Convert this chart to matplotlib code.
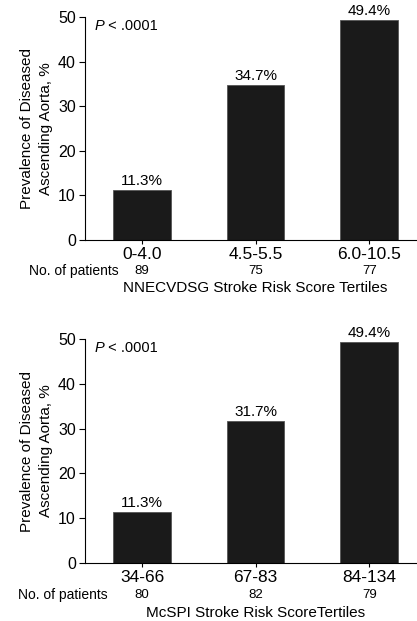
import matplotlib
matplotlib.use("Agg")
import matplotlib.pyplot as plt
from matplotlib.transforms import blended_transform_factory

plt.rcParams['font.family'] = ['Liberation Sans', 'DejaVu Sans']

# Data
top_categories = ["0-4.0", "4.5-5.5", "6.0-10.5"]
top_values = [11.3, 34.7, 49.4]
top_patients = [89, 75, 77]
top_title = "NNECVDSG Stroke Risk Score Tertiles"

bot_categories = ["34-66", "67-83", "84-134"]
bot_values = [11.3, 31.7, 49.4]
bot_patients = [80, 82, 79]
bot_title = "McSPI Stroke Risk ScoreTertiles"

yticks = [0, 10, 20, 30, 40, 50]
ylabel = "Prevalence of Diseased\nAscending Aorta, %"
ptext = " < .0001"

W, H = 417, 621
fig = plt.figure(figsize=(W / 100, H / 100), dpi=100)


def panel(rect, cats, vals, pats, title, tick_off, pat_off, title_off, pat_x):
    ax = fig.add_axes(rect)
    x = list(range(len(cats)))
    ax.bar(x, vals, width=0.507, color="#1a1a1a", edgecolor="#555555", linewidth=0.6)
    ax.set_xlim(-0.502, 2.42)
    ax.set_ylim(0, 50)
    ax.set_yticks(yticks)
    ax.set_yticklabels([str(t) for t in yticks], fontsize=11.5)
    ax.set_xticks(x)
    ax.set_xticklabels(cats, fontsize=12.5)
    ax.tick_params(axis='x', length=3, pad=tick_off, width=0.8)
    ax.tick_params(axis='y', length=4.5, pad=2, width=0.8)
    for s in ["top", "right"]:
        ax.spines[s].set_visible(False)
    for s in ["left", "bottom"]:
        ax.spines[s].set_linewidth(0.8)
    for xi, v in zip(x, vals):
        ax.annotate(f"{v:.1f}%", (xi, v), xytext=(0, 1.5), textcoords="offset points",
                    ha="center", va="bottom", fontsize=11)
    tr = blended_transform_factory(ax.transData, ax.transAxes)
    for xi, p in zip(x, pats):
        ax.annotate(str(p), (xi, 0), xycoords=tr, xytext=(0, -pat_off),
                    textcoords="offset pixels", ha="center", va="center", fontsize=9.5)
    ax.annotate("No. of patients", (pat_x / W, 0), xycoords=("figure fraction", "axes fraction"),
                xytext=(0, -pat_off), textcoords="offset pixels", ha="left", va="center",
                fontsize=10)
    ax.annotate(title, (1, 0), xycoords=tr, xytext=(0, -title_off),
                textcoords="offset pixels", ha="center", va="center", fontsize=11)
    ax.text(-0.42, 48, "P", style="italic", fontsize=10.5, ha="left", va="center")
    ax.text(-0.335, 48, ptext, fontsize=10.5, ha="left", va="center")
    ax.set_ylabel(ylabel, fontsize=11, labelpad=4, linespacing=1.45)
    return ax


ax1 = panel([85 / W, (H - 240) / H, 1 - 85 / W, 223 / H], top_categories, top_values,
            top_patients, top_title, 1.8, 30.5, 47.5, 29)
ax2 = panel([85 / W, (H - 563) / H, 1 - 85 / W, 224 / H], bot_categories, bot_values,
            bot_patients, bot_title, 2.0, 32.5, 50, 18)

fig.savefig("out.png", dpi=100)
